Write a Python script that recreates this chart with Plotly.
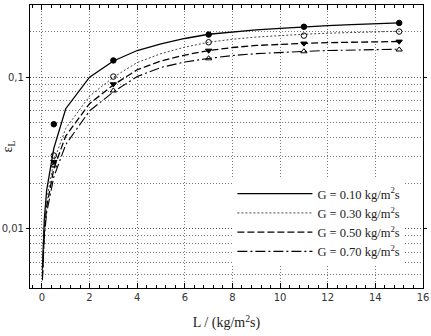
import plotly.graph_objects as go

# ---- data ----
L_curve = [0.02, 0.05, 0.1, 0.2, 0.5, 1, 2, 3, 4, 5, 6, 7, 8, 9, 10, 11, 12, 13, 14, 15]
eps_G010 = [0.0054, 0.0082, 0.0115, 0.018, 0.034, 0.062, 0.100, 0.128, 0.150, 0.166, 0.180,
            0.192, 0.199, 0.205, 0.210, 0.215, 0.219, 0.222, 0.225, 0.228]
eps_G030 = [0.0050, 0.0075, 0.0102, 0.0155, 0.028, 0.046, 0.075, 0.100, 0.125, 0.143, 0.158,
            0.170, 0.178, 0.184, 0.189, 0.192, 0.195, 0.197, 0.199, 0.201]
eps_G050 = [0.0048, 0.0070, 0.0095, 0.014, 0.025, 0.041, 0.067, 0.089, 0.112, 0.128, 0.140,
            0.150, 0.157, 0.162, 0.165, 0.167, 0.169, 0.170, 0.171, 0.172]
eps_G070 = [0.0046, 0.0066, 0.0088, 0.0128, 0.022, 0.036, 0.060, 0.080, 0.101, 0.116, 0.126,
            0.133, 0.139, 0.143, 0.146, 0.148, 0.150, 0.151, 0.152, 0.153]

L_meas = [0.5, 3, 7, 11, 15]
meas_G010 = [0.049, 0.129, 0.191, 0.215, 0.228]
meas_G030 = [0.0305, 0.101, 0.170, 0.188, 0.200]
meas_G050 = [0.0277, 0.090, 0.150, 0.167, 0.172]
meas_G070 = [0.0262, 0.0816, 0.133, 0.148, 0.152]

names = ["G = 0.10 kg/m<sup>2</sup>s", "G = 0.30 kg/m<sup>2</sup>s",
         "G = 0.50 kg/m<sup>2</sup>s", "G = 0.70 kg/m<sup>2</sup>s"]

x_ticks = [0, 2, 4, 6, 8, 10, 12, 14, 16]
y_ticks = [0.01, 0.1]
y_ticktext = ["0,01", "0,1"]

curves = [eps_G010, eps_G030, eps_G050, eps_G070]
meas = [meas_G010, meas_G030, meas_G050, meas_G070]
dashes = ["solid", "2px,2px", "7px,3px", "10px,3px,2px,3px"]
lcolors = ["black", "#444", "black", "black"]
lwidths = [1.3, 1.0, 1.3, 1.1]
msyms = ["circle", "circle-open", "triangle-down", "triangle-up-open"]

fig = go.Figure()
for c, n, d, lc, lw in zip(curves, names, dashes, lcolors, lwidths):
    fig.add_trace(go.Scatter(x=L_curve, y=c, mode="lines", name=n,
                             line=dict(color=lc, width=lw, dash=d)))
for m, s in zip(meas, msyms):
    fig.add_trace(go.Scatter(x=L_meas, y=m, mode="markers", showlegend=False,
                             marker=dict(symbol=s, size=5.5, color="black",
                                         line=dict(color="black", width=1))))

serif = "Liberation Serif, Times New Roman, serif"
sans = "DejaVu Sans, sans-serif"
griddash = "1px,2px"

fig.update_layout(
    width=431, height=336,
    margin=dict(l=30, r=8, t=5, b=48),
    paper_bgcolor="white", plot_bgcolor="white",
    showlegend=True,
    legend=dict(x=0.515, y=0.385, xanchor="left", yanchor="top",
                bgcolor="white", borderwidth=0,
                font=dict(family=serif, size=12.5, color="#222"),
                itemwidth=75),
    xaxis=dict(range=[-0.5, 16], tickvals=x_ticks, automargin=False,
               ticks="inside", ticklen=5, tickcolor="black",
               showline=True, linecolor="black", linewidth=1.2, mirror="ticks",
               showgrid=True, gridcolor="#777", griddash=griddash, gridwidth=1,
               zeroline=False,
               tickfont=dict(family=sans, size=10, color="#333"),
               minor=dict(dtick=0.4, tick0=0, ticks="inside", ticklen=3,
                          tickcolor="black", showgrid=False),
               title=dict(text="L / (kg/m<sup>2</sup>s)",
                          font=dict(family=serif, size=14, color="#222"))),
    yaxis=dict(type="log", range=[-2.389, -0.524], automargin=False,
               tickvals=y_ticks, ticktext=y_ticktext,
               ticks="outside", ticklen=3, tickcolor="black",
               showline=True, linecolor="black", linewidth=1.2, mirror="ticks",
               showgrid=True, gridcolor="#555", griddash=griddash, gridwidth=1,
               zeroline=False,
               tickfont=dict(family=sans, size=10, color="#333"),
               minor=dict(dtick="D1", showgrid=True, gridcolor="#777",
                          griddash=griddash, gridwidth=1, ticks=""),
               title=dict(text="ε<sub>L</sub>",
                          font=dict(family=serif, size=14, color="#222"))),
)

fig.write_html("out.html")
